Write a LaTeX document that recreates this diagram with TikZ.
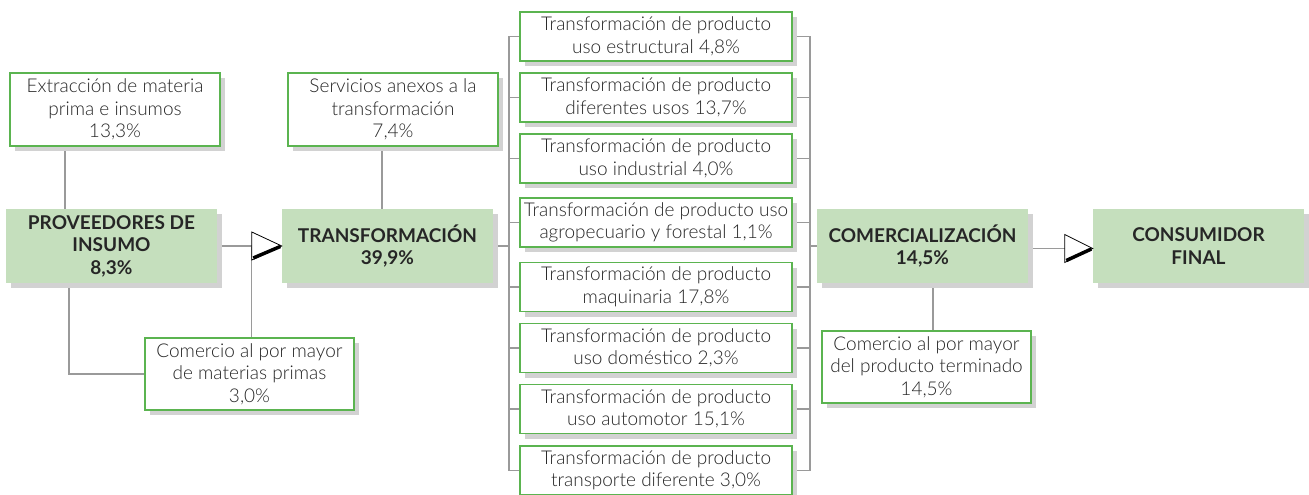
\documentclass[tikz,border=0pt]{standalone}
\usepackage{fontspec}
\setmainfont{Lato Light}[BoldFont={Lato Bold}]
\usetikzlibrary{shadows,calc,backgrounds}
\definecolor{gborder}{HTML}{5BB450}
\definecolor{gfill}{HTML}{C5DFBD}
\definecolor{shadowc}{HTML}{D2D2D2}
\definecolor{linec}{HTML}{9A9A9A}
\definecolor{textc}{HTML}{262626}
\tikzset{
  boxshadow/.style={general shadow={fill=shadowc, shadow xshift=5pt, shadow yshift=-5pt}},
  wbox/.style={rectangle, draw=gborder, line width=1.1pt, fill=white, boxshadow,
    minimum width=210pt, minimum height=73pt, inner sep=0pt, align=center, text=textc,
    font=\fontsize{19}{22.5}\selectfont},
  mbox/.style={wbox, minimum width=272pt, minimum height=49pt},
  gbox/.style={rectangle, fill=gfill, boxshadow, minimum width=211pt, minimum height=74pt,
    inner sep=0pt, align=center, text=textc, font=\fontsize{19}{22.5}\selectfont\bfseries},
  conn/.style={draw=linec, line width=1.1pt},
  tri/.style={draw=black, line width=0.8pt, fill=white, line join=miter},
  trishade/.style={draw=black, line width=3.5pt},
}
\begin{document}
\begin{tikzpicture}[x=1pt,y=-1pt]
\useasboundingbox (0,0) rectangle (1309,495);
% main chain
\node[gbox] (PROV) at (111.5,246) {PROVEEDORES DE\\INSUMO\\8,3\%};
\node[gbox] (TRANS) at (387.5,246) {TRANSFORMACIÓN\\39,9\%};
\node[gbox] (COM) at (922.5,246) {COMERCIALIZACIÓN\\14,5\%};
\node[gbox] (CONS) at (1198.5,246) {CONSUMIDOR\\FINAL};
% side boxes
\node[wbox] (EXT) at (115,109.5) {Extracción de materia\\prima e insumos\\13,3\%};
\node[wbox] (SERV) at (393,109.5) {Servicios anexos a la\\transformación\\7,4\%};
\node[wbox, minimum width=209pt, minimum height=72pt] (CMAT) at (249.5,374) {Comercio al por mayor\\de materias primas\\3,0\%};
\node[wbox, minimum width=209pt, minimum height=72pt] (CTER) at (926.5,367) {Comercio al por mayor\\del producto terminado\\14,5\%};
% middle column
\node[mbox] (m1) at (656,36.5) {Transformación de producto\\uso estructural 4,8\%};
\node[mbox] (m2) at (656,97.5) {Transformación de producto\\diferentes usos 13,7\%};
\node[mbox] (m3) at (656,158.5) {Transformación de producto\\uso industrial 4,0\%};
\node[mbox] (m4) at (656,222.5) {Transformación de producto uso\\agropecuario y forestal 1,1\%};
\node[mbox] (m5) at (656,287) {Transformación de producto\\maquinaria 17,8\%};
\node[mbox] (m6) at (656,348) {Transformación de producto\\uso doméstico 2,3\%};
\node[mbox] (m7) at (656,409) {Transformación de producto\\uso automotor 15,1\%};
\node[mbox] (m8) at (656,470.5) {Transformación de producto\\transporte diferente 3,0\%};
% helper coordinates
\coordinate (bl) at (509,0);
\coordinate (br) at (810,0);
\coordinate (a1) at ($(TRANS.west)+(-30,0)$);
\coordinate (t2) at ($(CONS.west)+(0,2.5)$);
\coordinate (a2) at ($(t2)+(-28,0)$);
\begin{pgfonlayer}{background}
  \draw[conn] ([xshift=-50pt]EXT.south) -- ([xshift=-50pt]EXT.south |- PROV.north);
  \draw[conn] ([xshift=-11pt]SERV.south) -- ([xshift=-11pt]SERV.south |- TRANS.north);
  \draw[conn] (PROV.east) -- (a1);
  \draw[conn] (a1) -- (a1 |- CMAT.north);
  \draw[conn] ([xshift=-42.5pt]PROV.south) |- (CMAT.west);
  \draw[conn] (TRANS.east) -- (bl |- TRANS.east);
  \draw[conn] (bl |- m1.west) -- (bl |- m8.west);
  \draw[conn] (br |- m1.east) -- (br |- m8.east);
  \foreach \m in {m1,m2,m3,m4,m5,m6,m7,m8}{
    \draw[conn] (bl |- \m.west) -- (\m.west);
    \draw[conn] (\m.east) -- (br |- \m.east);
  }
  \draw[conn] (br |- COM.west) -- (COM.west);
  \draw[conn] (COM.east |- a2) -- (a2);
  \draw[conn] ([xshift=10.5pt]COM.south) -- ([xshift=10.5pt]COM.south |- CTER.north);
\end{pgfonlayer}
% arrow heads
\draw[tri] ($(a1)+(0,-14)$) -- (TRANS.west) -- ($(a1)+(0,14)$) -- cycle;
\draw[trishade] ($(a1)+(1.5,12)$) -- ($(TRANS.west)+(-1.5,0.5)$);
\draw[tri] ($(a2)+(0,-14)$) -- (t2) -- ($(a2)+(0,14)$) -- cycle;
\draw[trishade] ($(a2)+(1.5,12)$) -- ($(t2)+(-1.5,0.5)$);
\end{tikzpicture}
\end{document}
